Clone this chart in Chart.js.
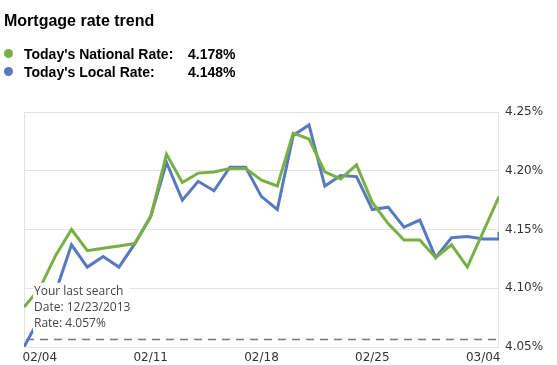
<!DOCTYPE html>
<html><head><meta charset="utf-8">
<script src="https://cdn.jsdelivr.net/npm/chart.js@4.4.1/dist/chart.umd.min.js"></script>
<style>
html,body{margin:0;padding:0;background:#fff;}
#wrap{position:relative;width:557px;height:365px;overflow:hidden;background:#fff;}
canvas{position:absolute;left:0;top:0;}
#title{position:absolute;left:4px;top:12px;font:bold 16px 'Liberation Sans',Arial,sans-serif;color:#000;white-space:nowrap;line-height:18px;}
.leg{position:absolute;left:0;height:16px;width:300px;font:bold 14px 'Liberation Sans',Arial,sans-serif;color:#000;white-space:nowrap;line-height:16px;}
.dot{position:absolute;left:4px;top:3px;width:9px;height:9px;border-radius:50%;}
.lab{position:absolute;left:24px;top:0;}
.val{position:absolute;left:188px;top:0;}
</style></head>
<body><div id="wrap">
<canvas id="c" width="557" height="365"></canvas>
<div id="title">Mortgage rate trend</div>
<div id="legend"></div>
</div>
<script>
// ---- data ----
const dates = ['02/03','02/04','02/05','02/06','02/07','02/08','02/09','02/10','02/11','02/12',
  '02/13','02/14','02/15','02/16','02/17','02/18','02/19','02/20','02/21','02/22',
  '02/23','02/24','02/25','02/26','02/27','02/28','03/01','03/02','03/03','03/04','03/05'];
const national = [4.084,4.100,4.128,4.150,4.132,4.134,4.136,4.138,4.161,4.214,
  4.190,4.198,4.199,4.202,4.202,4.192,4.187,4.232,4.227,4.199,
  4.193,4.205,4.173,4.155,4.141,4.141,4.126,4.137,4.118,4.148,4.178];
const local = [4.050,4.075,4.097,4.137,4.118,4.127,4.118,4.138,4.161,4.207,
  4.175,4.191,4.183,4.203,4.203,4.178,4.167,4.230,4.239,4.187,
  4.196,4.195,4.167,4.169,4.152,4.158,4.126,4.143,4.144,4.142,4.142];
const localToday = 4.148;
const tickLabels = ['02/04','02/11','02/18','02/25','03/04'];
const seriesNames = ["Today's National Rate:", "Today's Local Rate:"];
const todayRates = ['4.178%', '4.148%'];
const lastSearchDate = '12/23/2013';
const lastSearchRate = 4.057;
const yTicks = [4.05, 4.10, 4.15, 4.20, 4.25];

const GREEN = '#78b043';
const BLUE = '#5679c0';
const colors = [GREEN, BLUE];

// legend
const leg = document.getElementById('legend');
seriesNames.forEach((n, i) => {
  const d = document.createElement('div');
  d.className = 'leg';
  d.style.top = (46 + i * 18) + 'px';
  d.innerHTML = '<span class="dot" style="background:' + colors[i] + '"></span><span class="lab"></span><span class="val"></span>';
  d.querySelector('.lab').textContent = n;
  d.querySelector('.val').textContent = todayRates[i];
  leg.appendChild(d);
});

const overlay = {
  id: 'overlay',
  beforeDatasetsDraw(chart) {
    const {ctx, chartArea: a, scales: {y}} = chart;
    ctx.save();
    ctx.strokeStyle = '#e3e3e3';
    ctx.lineWidth = 1;
    ctx.beginPath();
    ctx.moveTo(a.left + 0.5, a.top); ctx.lineTo(a.left + 0.5, a.bottom);
    ctx.moveTo(a.right - 0.5, a.top); ctx.lineTo(a.right - 0.5, a.bottom);
    ctx.stroke();
    const yd = Math.round(y.getPixelForValue(lastSearchRate)) + 0.5;
    ctx.strokeStyle = '#777';
    ctx.lineWidth = 1.4;
    ctx.setLineDash([8, 6]);
    ctx.beginPath();
    ctx.moveTo(a.left + 2, yd); ctx.lineTo(a.right - 2, yd);
    ctx.stroke();
    ctx.restore();
  },
  afterDatasetsDraw(chart) {
    const {ctx, chartArea: a, scales: {y}} = chart;
    const yd = y.getPixelForValue(lastSearchRate);
    const lines = ['Your last search', 'Date: ' + lastSearchDate, 'Rate: ' + lastSearchRate.toFixed(3) + '%'];
    ctx.save();
    ctx.fillStyle = '#ffffff';
    ctx.fillRect(a.left + 9, yd - 56, 96, 49);
    ctx.fillStyle = '#444';
    ctx.font = "12px 'Open Sans'";
    ctx.textBaseline = 'middle';
    lines.forEach((t, i) => ctx.fillText(t, a.left + 10, yd - 47.5 + 16.2 * i));
    ctx.restore();
  }
};

const tickFont = {family: 'DejaVu Sans', size: 12};

new Chart(document.getElementById('c').getContext('2d'), {
  type: 'line',
  data: {
    datasets: [
      {label: 'National', data: national.map((v, i) => ({x: i, y: v})),
       borderColor: GREEN, borderWidth: 3, pointRadius: 0, tension: 0, fill: false},
      {label: 'Local', data: local.map((v, i) => ({x: i, y: v})).concat([{x: local.length - 1, y: localToday}]),
       borderColor: BLUE, borderWidth: 3, pointRadius: 0, tension: 0, fill: false}
    ]
  },
  options: {
    responsive: false,
    animation: false,
    devicePixelRatio: 1,
    layout: {padding: {left: 24, top: 112, right: 0, bottom: 0}},
    plugins: {legend: {display: false}, tooltip: {enabled: false}},
    scales: {
      x: {
        type: 'linear', min: 0, max: dates.length - 1,
        grid: {display: false, drawTicks: false}, border: {display: false},
        afterBuildTicks: s => { s.ticks = tickLabels.map(l => ({value: dates.indexOf(l)})); },
        afterFit: s => { s.height = 18; },
        ticks: {autoSkip: false, maxRotation: 0, padding: 4, font: tickFont, color: '#333',
                callback: v => dates[v]}
      },
      y: {
        position: 'right', min: yTicks[0], max: yTicks[yTicks.length - 1],
        grid: {color: '#e3e3e3', drawTicks: false}, border: {display: false},
        afterBuildTicks: s => { s.ticks = yTicks.map(v => ({value: v})); },
        afterFit: s => { s.width = 58; },
        ticks: {padding: 6, font: tickFont, color: '#333', callback: v => v.toFixed(2) + '%'}
      }
    }
  },
  plugins: [overlay]
});
</script>
</body></html>
